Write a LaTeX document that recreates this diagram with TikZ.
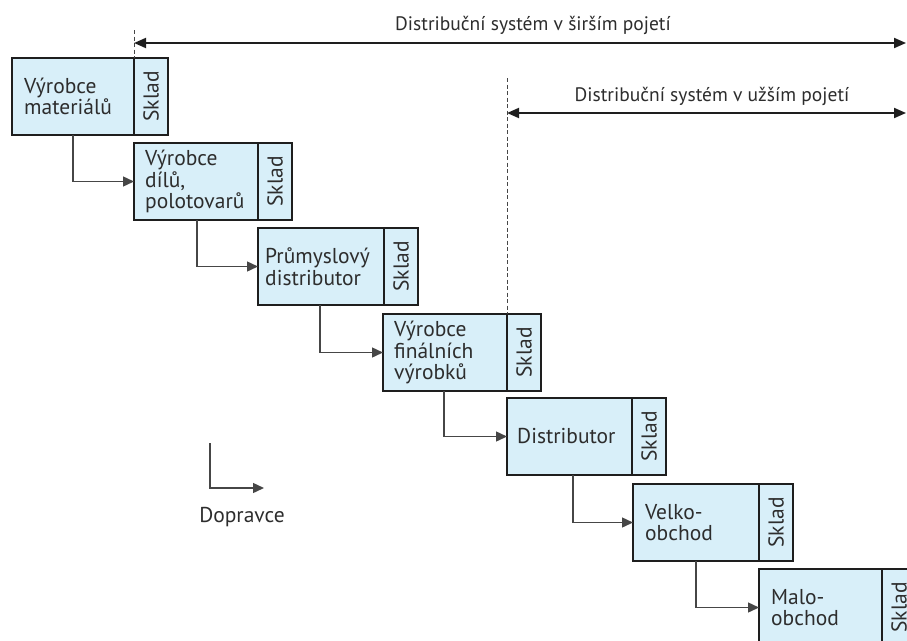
\documentclass[tikz,border=0pt]{standalone}
\usepackage{fontspec}
\setmainfont{PT Sans}
\usetikzlibrary{arrows.meta}
\definecolor{boxfill}{RGB}{216,239,249}
\definecolor{boxline}{RGB}{30,30,30}
\definecolor{txt}{RGB}{45,45,45}
\definecolor{connline}{RGB}{70,70,70}
\begin{document}
\begin{tikzpicture}[x=1pt,y=-1pt,
  font=\fontsize{21.5}{21.5}\selectfont,
  mainbox/.style={draw=boxline, fill=boxfill, line width=2pt, anchor=north west,
    minimum height=77pt, inner sep=0pt, outer sep=0pt},
  skladbox/.style={mainbox, minimum width=34pt},
  boxtext/.style={anchor=west, align=left, inner sep=0pt, text=txt},
  skladtext/.style={rotate=90, inner sep=0pt, text=txt},
  conn/.style={draw=connline, line width=1.4pt, -{Triangle[length=11pt,width=10pt]}},
  span/.style={draw=boxline, line width=1.9pt, {Triangle[length=12pt,width=10pt]}-{Triangle[length=12pt,width=10pt]}},
  guide/.style={draw=connline, line width=0.9pt, dash pattern=on 4pt off 2.5pt},
  title/.style={text=txt, inner sep=0pt, font=\fontsize{19.5}{21}\selectfont}]
\useasboundingbox (0,0) rectangle (907,640);
\clip (0,0) rectangle (907,640);

% chain of participants, each with its own warehouse
\node[mainbox, minimum width=122pt] (b1) at (12,58) {};
\node[skladbox] (s1) at (b1.north east) {};
\node[boxtext] (t1) at ([xshift=12pt]b1.west) {Výrobce\\materiálů};
\node[skladtext] (k1) at (s1.center) {Sklad};

\node[mainbox, minimum width=124pt] (b2) at (134,143) {};
\node[skladbox] (s2) at (b2.north east) {};
\node[boxtext] (t2) at ([xshift=11pt]b2.west) {Výrobce\\dílů,\\polotovarů};
\node[skladtext] (k2) at (s2.center) {Sklad};

\node[mainbox, minimum width=126pt] (b3) at (258,228) {};
\node[skladbox] (s3) at (b3.north east) {};
\node[boxtext] (t3) at ([xshift=7pt]b3.west) {Průmyslový\\distributor};
\node[skladtext] (k3) at (s3.center) {Sklad};

\node[mainbox, minimum width=124pt] (b4) at (383,314) {};
\node[skladbox] (s4) at (b4.north east) {};
\node[boxtext] (t4) at ([xshift=11pt]b4.west) {Výrobce\\finálních\\výrobků};
\node[skladtext] (k4) at (s4.center) {Sklad};

\node[mainbox, minimum width=125pt] (b5) at (507,398) {};
\node[skladbox] (s5) at (b5.north east) {};
\node[boxtext] (t5) at ([xshift=10pt]b5.west) {Distributor};
\node[skladtext] (k5) at (s5.center) {Sklad};

\node[mainbox, minimum width=126pt] (b6) at (633,484) {};
\node[skladbox] (s6) at (b6.north east) {};
\node[boxtext] (t6) at ([xshift=12pt]b6.west) {Velko-\\obchod};
\node[skladtext] (k6) at (s6.center) {Sklad};

\node[mainbox, minimum width=123pt] (b7) at (759,569) {};
\node[skladbox] (s7) at (b7.north east) {};
\node[boxtext] (t7) at ([xshift=12pt]b7.west) {Malo-\\obchod};
\node[skladtext] (k7) at (s7.center) {Sklad};

% transport links between consecutive participants
\draw[conn] ([xshift=61pt]b1.south west) |- (b2.west);
\draw[conn] ([xshift=63pt]b2.south west) |- (b3.west);
\draw[conn] ([xshift=62pt]b3.south west) |- (b4.west);
\draw[conn] ([xshift=61pt]b4.south west) |- (b5.west);
\draw[conn] ([xshift=66pt]b5.south west) |- (b6.west);
\draw[conn] ([xshift=63pt]b6.south west) |- (b7.west);

% extent of the distribution system
\coordinate (w1) at (b1.north east |- 0,30);
\coordinate (w2) at (b1.north east |- 0,43);
\coordinate (w3) at (906,43);
\draw[guide] (w1) -- (b1.north east);
\draw[span] (w2) -- (w3);
\node[title] (tw) at (533,25) {Distribuční systém v širším pojetí};

\coordinate (n1) at (b4.north east |- 0,78);
\coordinate (n2) at (b4.north east |- 0,113);
\coordinate (n3) at (906,113);
\draw[guide] (n1) -- (b4.north east);
\draw[span] (n2) -- (n3);
\node[title] (tn) at (712,96) {Distribuční systém v užším pojetí};

% legend
\coordinate (lg1) at (210,443);
\coordinate (lg2) at (264,488);
\draw[conn] (lg1) |- (lg2);
\node[text=txt, inner sep=0pt] (lgt) at (242,517) {Dopravce};
\end{tikzpicture}
\end{document}
